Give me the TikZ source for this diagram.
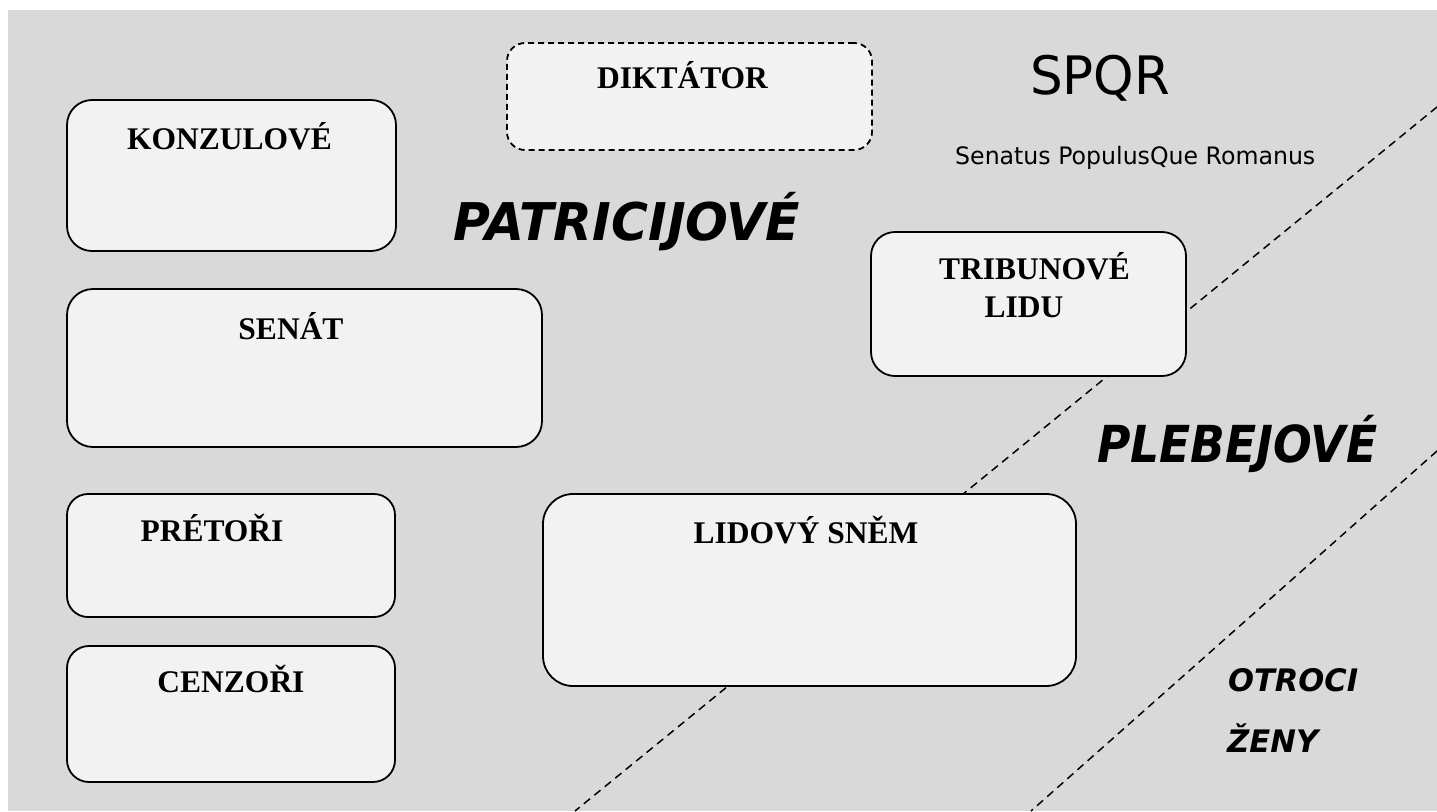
\documentclass[tikz,border=0pt]{standalone}
\usepackage{fontspec}
\setmainfont{Liberation Serif}
\newfontfamily\comicfont{DejaVu Sans}
\usepackage{graphicx}
\definecolor{bggray}{HTML}{D9D9D9}
\definecolor{boxfill}{HTML}{F2F2F2}
\newcommand\wfit[2]{\resizebox{#1}{\height}{#2}}
\tikzset{
  officebox/.style={draw=black, line width=1.8pt, fill=boxfill, rectangle, inner sep=0pt},
  boxlabel/.style={inner sep=0pt, anchor=base, font=\fontsize{31.5}{38}\selectfont\bfseries},
  divider/.style={line width=1.5pt, dash pattern=on 8pt off 5.5pt},
  comic/.style={inner sep=0pt, anchor=base west},
}
\begin{document}
\begin{tikzpicture}[x=1pt,y=-1pt]
\useasboundingbox (0,0) rectangle (1437,811);
\fill[bggray] (8,10) rectangle (1437,811);
% dividing lines
\coordinate (d1top) at (1437,107);
\coordinate (d1bot) at (575,811);
\coordinate (d2top) at (1437,451);
\coordinate (d2bot) at (1031,811);
\draw[divider] (d1top) -- (d1bot);
\draw[divider] (d2top) -- (d2bot);
% boxes
\node[officebox, dashed, dash pattern=on 6pt off 4pt, minimum width=365pt, minimum height=107pt, rounded corners=18pt] (dikt) at (689.5,96.5) {};
\node[officebox, minimum width=329pt, minimum height=151pt, rounded corners=25pt] (konzul) at (231.5,175.5) {};
\node[officebox, minimum width=475pt, minimum height=158pt, rounded corners=26pt] (senat) at (304.5,368) {};
\node[officebox, minimum width=328pt, minimum height=123pt, rounded corners=21pt] (pretori) at (231,555.5) {};
\node[officebox, minimum width=328pt, minimum height=136pt, rounded corners=22pt] (cenzori) at (231,714) {};
\node[officebox, minimum width=533pt, minimum height=192pt, rounded corners=30pt] (snem) at (809.5,590) {};
\node[officebox, minimum width=315pt, minimum height=144pt, rounded corners=24pt] (tribun) at (1028.5,304) {};
% box labels
\node[boxlabel] (konzul-t) at (229.5,149) {KONZULOVÉ};
\node[boxlabel] (dikt-t) at (682.5,88) {DIKTÁTOR};
\node[boxlabel] (senat-t) at (291,339) {SENÁT};
\node[boxlabel] (pretori-t) at (212,541) {PRÉTOŘI};
\node[boxlabel] (cenzori-t) at (231,692) {CENZOŘI};
\node[boxlabel] (snem-t) at (806,543) {LIDOVÝ SNĚM};
\node[boxlabel] (tribun-t1) at (1034.5,279) {TRIBUNOVÉ};
\node[boxlabel] (tribun-t2) at (1024,317) {LIDU};
% free texts
\node[comic, font=\comicfont\fontsize{53}{60}\selectfont] (spqr) at (1030,94) {\wfit{140pt}{SPQR}};
\node[comic, font=\comicfont\fontsize{24}{28}\selectfont] (motto) at (955,164) {\wfit{360pt}{Senatus PopulusQue Romanus}};
\node[comic, font=\comicfont\bfseries\itshape\fontsize{52}{60}\selectfont] (patr) at (453,240) {\wfit{347pt}{PATRICIJOVÉ}};
\node[comic, font=\comicfont\bfseries\itshape\fontsize{51}{60}\selectfont] (pleb) at (1097,462) {\wfit{280pt}{PLEBEJOVÉ}};
\node[comic, font=\comicfont\bfseries\itshape\fontsize{31}{36}\selectfont] (otroci) at (1228,691) {\wfit{130pt}{OTROCI}};
\node[comic, font=\comicfont\bfseries\itshape\fontsize{31}{36}\selectfont] (zeny) at (1227,752) {\wfit{91pt}{ŽENY}};
\end{tikzpicture}
\end{document}
